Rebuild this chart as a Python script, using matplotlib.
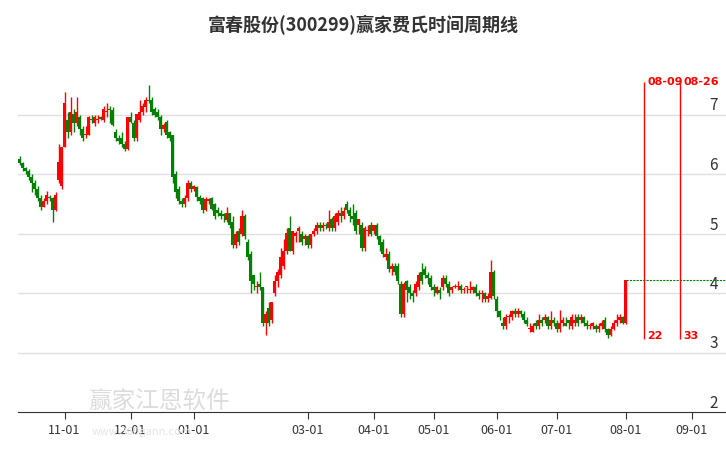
import matplotlib
matplotlib.use("Agg")
import matplotlib.pyplot as plt

title = "富春股份(300299)赢家费氏时间周期线"
opens = [6.25,6.18,6.1,6.05,5.95,5.85,5.75,5.6,5.45,5.55,5.62,5.6,5.4,5.9,5.8,6.45,6.9,6.7,7.0,6.85,6.95,6.75,6.65,6.65,6.92,6.85,6.9,6.95,6.9,7.05,7.1,7.08,6.7,6.6,6.6,6.5,6.42,6.95,6.85,6.6,6.9,7.05,7.12,7.25,7.25,7.1,7.05,6.95,6.75,6.88,6.7,6.65,6.0,5.75,5.55,5.5,5.6,5.85,5.75,5.78,5.62,5.6,5.4,5.55,5.6,5.5,5.4,5.35,5.32,5.22,5.35,5.2,4.8,5.05,5.0,5.3,4.85,4.65,4.3,4.1,4.15,4.1,3.5,3.75,3.55,
 4.0,4.2,4.3,4.45,4.7,5.1,4.7,4.95,5.05,5.0,4.9,4.95,4.8,5.0,5.05,5.15,5.1,5.15,5.1,5.25,5.1,5.2,5.35,5.3,5.5,5.4,5.3,5.35,5.15,5.15,4.75,5.05,5.15,5.05,5.15,4.95,4.85,4.6,4.65,4.4,4.45,4.45,4.15,3.65,
 4.2,4.1,4.0,4.0,4.1,4.35,4.4,4.3,4.25,4.1,4.0,4.05,4.1,4.25,4.15,4.05,4.1,4.1,4.12,4.05,4.1,4.05,4.05,4.1,4.0,3.98,4.0,3.9,3.92,
 4.35,3.9,3.7,3.5,3.45,3.6,3.6,3.7,3.65,3.7,3.65,3.55,3.4,3.35,3.5,3.45,3.55,3.55,3.6,3.45,3.55,3.5,3.4,3.5,3.5,3.55,3.45,3.5,3.6,3.55,3.6,3.5,3.45,3.45,3.45,3.4,3.45,3.55,3.4,3.3,3.4,3.5,3.55,3.6,3.5]
closes = [6.18,6.1,6.05,5.95,5.85,5.75,5.6,5.45,5.55,5.65,5.6,5.4,5.65,6.2,6.45,7.2,6.7,7.05,6.85,7.05,6.75,6.6,6.65,6.95,6.9,6.95,6.92,6.92,7.1,7.05,7.08,6.82,6.6,6.55,6.5,6.42,6.95,6.88,6.6,7.0,7.05,7.15,7.25,7.22,7.05,7.0,6.95,6.75,6.82,6.65,6.6,5.95,5.7,5.55,5.5,5.6,5.85,5.75,5.8,5.62,5.55,5.4,5.58,5.58,5.42,5.3,5.35,5.3,5.3,5.35,5.15,4.8,5.0,4.85,5.3,4.95,4.6,4.2,4.15,4.1,4.1,3.5,3.65,3.5,3.85,
 4.2,4.35,4.6,4.7,5.0,4.7,5.05,5.0,5.1,4.85,4.95,4.8,5.0,5.05,5.15,5.1,5.15,5.12,5.2,5.1,5.3,5.35,5.3,5.38,5.4,5.3,5.25,5.05,5.25,4.75,5.1,5.05,5.0,5.15,4.95,4.8,4.65,4.65,4.4,4.45,4.35,4.2,3.65,4.15,
 4.05,4.0,3.95,4.15,4.3,4.2,4.3,4.25,4.1,4.05,4.1,4.0,4.25,4.15,4.0,4.1,4.12,4.1,4.05,4.05,4.1,4.05,4.1,4.0,3.95,4.0,3.9,3.95,4.35,
 3.95,3.7,3.6,3.45,3.6,3.6,3.7,3.65,3.7,3.65,3.55,3.48,3.4,3.45,3.45,3.55,3.5,3.6,3.45,3.55,3.5,3.4,3.5,3.55,3.45,3.5,3.6,3.55,3.5,3.6,3.5,3.45,3.45,3.5,3.4,3.45,3.5,3.4,3.3,3.4,3.5,3.55,3.6,3.5,4.22]
highs = [6.3,6.2,6.12,6.08,6.0,5.9,5.8,5.65,5.6,5.72,5.65,5.62,5.7,6.5,6.45,7.38,7.05,7.3,7.1,7.3,7.0,6.8,6.8,6.98,7.0,7.0,7.0,6.98,7.15,7.2,7.15,7.12,6.75,6.65,6.7,6.55,6.95,7.05,6.9,7.0,7.25,7.2,7.3,7.5,7.3,7.12,7.1,7.0,6.85,6.9,6.72,6.65,6.05,5.8,5.6,5.65,5.9,5.88,5.82,5.8,5.65,5.62,5.62,5.6,5.62,5.52,5.45,5.4,5.35,5.45,5.35,5.3,5.05,5.1,5.4,5.32,4.9,4.7,4.3,4.2,4.35,4.1,3.7,3.85,3.85,
 4.3,4.4,4.75,4.9,5.1,5.3,5.05,5.05,5.12,5.05,5.0,4.98,5.0,5.1,5.2,5.2,5.2,5.18,5.4,5.28,5.35,5.4,5.45,5.45,5.55,5.45,5.5,5.4,5.25,5.2,5.12,5.15,5.2,5.15,5.18,4.98,4.9,4.75,4.7,4.5,4.5,4.5,4.2,4.18,
 4.22,4.15,4.05,4.2,4.35,4.5,4.45,4.35,4.3,4.15,4.12,4.1,4.3,4.3,4.2,4.12,4.15,4.2,4.15,4.1,4.12,4.2,4.12,4.15,4.05,4.05,4.02,4.0,4.55,
 4.38,3.95,3.72,3.6,3.65,3.65,3.72,3.75,3.75,3.72,3.7,3.6,3.5,3.5,3.55,3.65,3.6,3.65,3.62,3.7,3.6,3.55,3.72,3.6,3.6,3.55,3.65,3.65,3.65,3.65,3.62,3.55,3.5,3.52,3.48,3.5,3.55,3.6,3.42,3.45,3.55,3.65,3.65,3.62,4.22]
lows = [6.15,6.05,6.0,5.9,5.7,5.65,5.55,5.4,5.45,5.5,5.55,5.2,5.38,5.85,5.75,6.45,6.6,6.65,6.7,6.8,6.65,6.55,6.6,6.65,6.85,6.8,6.85,6.9,6.88,6.95,6.85,6.8,6.55,6.5,6.45,6.38,6.4,6.85,6.55,6.55,6.88,7.0,7.05,7.2,7.0,6.95,6.9,6.65,6.7,6.6,6.55,5.85,5.6,5.5,5.45,5.45,5.55,5.7,5.72,5.55,5.5,5.35,5.38,5.5,5.4,5.25,5.3,5.25,5.2,5.2,5.1,4.75,4.75,4.8,4.95,4.9,4.55,4.0,4.05,4.0,4.05,3.45,3.3,3.45,3.5,
 3.95,4.1,4.25,4.4,4.65,4.7,4.65,4.85,4.85,4.8,4.8,4.75,4.75,4.95,5.0,5.05,5.05,5.08,5.05,5.05,5.05,5.15,5.2,5.25,5.35,5.2,5.15,5.0,5.0,4.7,4.7,4.95,4.95,5.0,4.9,4.7,4.6,4.55,4.35,4.3,4.3,4.15,3.6,3.6,
 3.85,3.9,3.85,3.95,4.05,4.15,4.25,4.15,4.05,3.95,3.98,3.9,4.05,4.1,3.95,4.0,4.08,4.05,4.0,4.0,4.0,4.0,4.0,3.95,3.9,3.85,3.85,3.85,3.9,
 3.9,3.6,3.55,3.4,3.4,3.5,3.55,3.6,3.6,3.6,3.5,3.45,3.35,3.35,3.4,3.4,3.45,3.5,3.4,3.4,3.45,3.35,3.35,3.45,3.45,3.4,3.4,3.45,3.45,3.5,3.45,3.4,3.4,3.4,3.35,3.35,3.4,3.35,3.25,3.28,3.38,3.45,3.5,3.48,3.48]

tick_pos = [15, 37, 58, 96, 118, 138, 159, 179, 202, 224]
tick_labels = ["11-01", "12-01", "01-01", "03-01", "04-01", "05-01", "06-01", "07-01", "08-01", "09-01"]
cycle_pos = [208, 220]
cycle_dates = ["08-09", "08-26"]
cycle_counts = ["22", "33"]

plt.rcParams["font.family"] = ["Noto Sans CJK SC", "DejaVu Sans"]
fig = plt.figure(figsize=(7.26, 4.5), dpi=100)
fig.text(88/726, 1 - 402/450, "赢家江恩软件", fontsize=17, color="#dcdcdc", va="center", zorder=0)
fig.text(92/726, 1 - 432/450, "www.360gann.com", fontsize=8, color="#e4e4e4", va="center", zorder=0)
ax = fig.add_axes([18/726, 38/450, 1 - 18/726, 357/450])
ax.patch.set_alpha(0)
for i, (o, c, h, l) in enumerate(zip(opens, closes, highs, lows)):
    col = "#ff0000" if c >= o else "#008000"
    ax.vlines(i, l, h, color=col, lw=1)
    ax.bar(i, max(abs(c - o), 0.015), bottom=min(o, c), width=0.75, color=col, lw=0)

n = len(closes)
ax.plot([n - 1, 236], [closes[-1]] * 2, color="#008000", lw=0.8, ls=(0, (2, 1)))
for p, d, k in zip(cycle_pos, cycle_dates, cycle_counts):
    ax.vlines(p, 3.22, 7.55, color="#ff0000", lw=1)
    ax.text(p + 1.2, 7.55, d, color="#ff0000", fontsize=8, fontweight="bold", va="center", family="DejaVu Sans")
    ax.text(p + 1.2, 3.28, k, color="#ff0000", fontsize=8, fontweight="bold", va="center", family="DejaVu Sans")

ax.set_xlim(-0.5, 235.5)
ax.set_ylim(2, 8)
ax.set_yticks([2, 3, 4, 5, 6, 7])
ax.yaxis.tick_right()
ax.tick_params(axis="y", direction="in", length=0, pad=-12, labelsize=11, labelcolor="#333333")
for t in ax.get_yticklabels():
    t.set_horizontalalignment("left")
    t.set_verticalalignment("bottom")
ax.set_xticks(tick_pos)
ax.set_xticklabels(tick_labels)
ax.tick_params(axis="x", length=5, color="#333333", labelsize=9, labelcolor="#333333")
for y in [3, 4, 5, 6, 7]:
    ax.axhline(y, color="#e0e0e0", lw=1, zorder=0)
for s in ["top", "right", "left"]:
    ax.spines[s].set_visible(False)
ax.spines["bottom"].set_color("#333333")

fig.text(0.5, 1 - 25/450, title, ha="center", va="center", fontsize=13, fontweight="bold", color="#333333")

fig.savefig("out.png", dpi=100)
